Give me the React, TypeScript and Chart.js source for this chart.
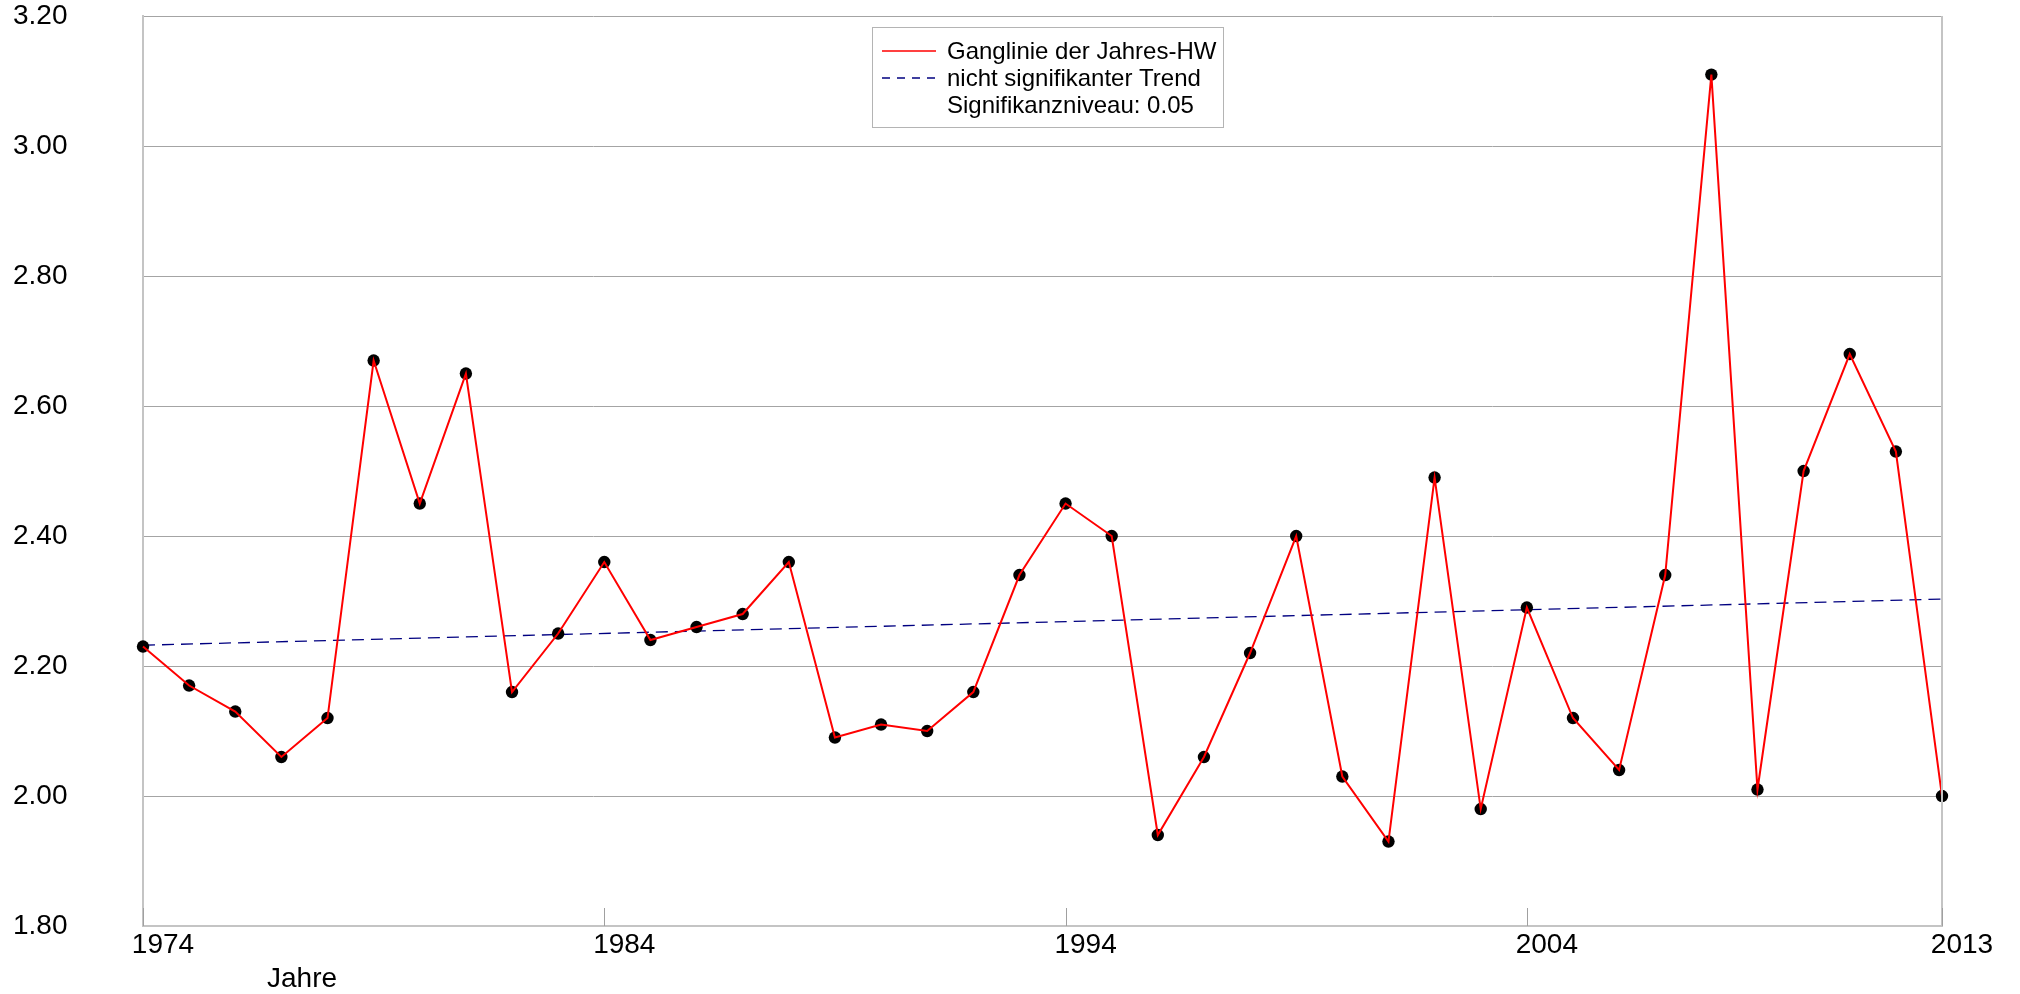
import React, { useEffect, useRef } from "react";
import { Chart, registerables } from "chart.js";

Chart.register(...registerables);

const years: number[] = [
  1974, 1975, 1976, 1977, 1978, 1979, 1980, 1981, 1982, 1983,
  1984, 1985, 1986, 1987, 1988, 1989, 1990, 1991, 1992, 1993,
  1994, 1995, 1996, 1997, 1998, 1999, 2000, 2001, 2002, 2003,
  2004, 2005, 2006, 2007, 2008, 2009, 2010, 2011, 2012, 2013,
];
const jahresHW: number[] = [
  2.23, 2.17, 2.13, 2.06, 2.12, 2.67, 2.45, 2.65, 2.16, 2.25,
  2.36, 2.24, 2.26, 2.28, 2.36, 2.09, 2.11, 2.10, 2.16, 2.34,
  2.45, 2.40, 1.94, 2.06, 2.22, 2.40, 2.03, 1.93, 2.49, 1.98,
  2.29, 2.12, 2.04, 2.34, 3.11, 2.01, 2.50, 2.68, 2.53, 2.00,
];
const trendYears: number[] = [1974, 2013];
const trendValues: number[] = [2.232, 2.303];
const xTickYears: number[] = [1974, 1984, 1994, 2004, 2013];
const seriesLabels: string[] = ["Ganglinie der Jahres-HW", "nicht signifikanter Trend"];
const legendNote = "Signifikanzniveau: 0.05";
const xAxisTitle = "Jahre";

const FONT = "'Liberation Sans', Arial, Helvetica, sans-serif";

const overlayPlugin = {
  id: "overlay",
  afterDraw(chart: any) {
    const { ctx, chartArea, scales } = chart;
    const xs = scales.x;
    ctx.save();
    // right border
    ctx.strokeStyle = "#c4c4c4";
    ctx.lineWidth = 2;
    ctx.beginPath();
    ctx.moveTo(chartArea.right, chartArea.top);
    ctx.lineTo(chartArea.right, chartArea.bottom);
    ctx.stroke();
    // inner tick marks
    ctx.strokeStyle = "#a0a0a0";
    ctx.lineWidth = 1;
    xs.ticks.forEach((t: any) => {
      const px = Math.round(xs.getPixelForValue(t.value)) + 0.5;
      ctx.beginPath();
      ctx.moveTo(px, chartArea.bottom);
      ctx.lineTo(px, chartArea.bottom - 18);
      ctx.stroke();
    });
    // x axis title
    ctx.fillStyle = "#000";
    ctx.font = `28px ${FONT}`;
    ctx.textAlign = "left";
    ctx.textBaseline = "alphabetic";
    ctx.fillText(xAxisTitle, 267, 987);

    // legend box
    const bx = 872, by = 27, bw = 351, bh = 100;
    ctx.fillStyle = "#fff";
    ctx.fillRect(bx, by, bw, bh);
    ctx.strokeStyle = "#b4b4b4";
    ctx.lineWidth = 1;
    ctx.strokeRect(bx + 0.5, by + 0.5, bw, bh);
    const ds = chart.data.datasets;
    // red sample
    ctx.strokeStyle = ds[0].borderColor;
    ctx.lineWidth = 1.5;
    ctx.beginPath();
    ctx.moveTo(882, 51);
    ctx.lineTo(936, 51);
    ctx.stroke();
    // dashed sample
    ctx.strokeStyle = ds[1].borderColor;
    ctx.lineWidth = 1.3;
    ctx.setLineDash([8, 7]);
    ctx.beginPath();
    ctx.moveTo(882, 78);
    ctx.lineTo(936, 78);
    ctx.stroke();
    ctx.setLineDash([]);
    ctx.fillStyle = "#000";
    ctx.font = `24px ${FONT}`;
    ctx.fillText(ds[0].label, 947, 59);
    ctx.fillText(ds[1].label, 947, 86);
    ctx.fillText(legendNote, 947, 113);
    ctx.restore();
  },
};

export default function App() {
  const ref = useRef<HTMLCanvasElement | null>(null);
  useEffect(() => {
    if (!ref.current) return;
    const points = years.map((y, i) => ({ x: y, y: jahresHW[i] }));
    const chart = new Chart(ref.current, {
      type: "line",
      data: {
        datasets: [
          {
            label: seriesLabels[0],
            data: points,
            borderColor: "#ff0000",
            borderWidth: 2,
            pointRadius: 0,
            tension: 0,
            order: 1,
          },
          {
            label: seriesLabels[1],
            data: trendYears.map((y, i) => ({ x: y, y: trendValues[i] })),
            borderColor: "#000080",
            borderWidth: 1.3,
            borderDash: [12, 7],
            pointRadius: 0,
            tension: 0,
            order: 3,
          },
          {
            label: "points",
            data: points,
            showLine: false,
            borderColor: "#000",
            pointRadius: 6.2,
            pointBackgroundColor: "#000",
            pointBorderWidth: 0,
            order: 2,
          },
        ],
      },
      options: {
        responsive: false,
        animation: false,
        events: [],
        clip: false,
        layout: { padding: { left: 13, top: 0, right: 78, bottom: 0 } },
        plugins: { legend: { display: false }, tooltip: { enabled: false } },
        scales: {
          x: {
            type: "linear",
            min: 1974,
            max: 2013,
            afterBuildTicks: (s: any) => {
              s.ticks = xTickYears.map((v) => ({ value: v }));
            },
            afterFit: (s: any) => {
              s.height = 68;
            },
            grid: { display: true, drawOnChartArea: false, drawTicks: false },
            border: { display: true, color: "#c4c4c4", width: 2 },
            ticks: {
              color: "#000",
              font: { family: FONT, size: 28 },
              padding: 2,
              labelOffset: 20,
              maxRotation: 0,
              autoSkip: false,
              callback: (v: any) => String(v),
            },
          },
          y: {
            min: 1.8,
            max: 3.2,
            afterFit: (s: any) => {
              s.width = 130;
            },
            grid: { color: "#a4a4a4", lineWidth: 1, drawTicks: false },
            border: { display: true, color: "#c4c4c4", width: 2 },
            ticks: {
              stepSize: 0.2,
              color: "#000",
              font: { family: FONT, size: 28, lineHeight: 1.15 },
              padding: 0,
              crossAlign: "far",
              callback: (v: any) => Number(v).toFixed(2),
            },
          },
        },
      },
      plugins: [overlayPlugin],
    });
    return () => chart.destroy();
  }, []);
  return (
    <div style={{ position: "absolute", left: 0, top: 0, width: 2020, height: 994, background: "#fff" }}>
      <canvas ref={ref} width={2020} height={994} style={{ display: "block" }} />
    </div>
  );
}
